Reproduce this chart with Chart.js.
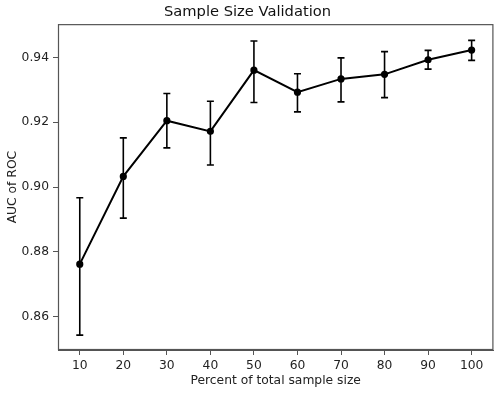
<!DOCTYPE html>
<html>
<head>
<meta charset="utf-8">
<script src="https://cdn.jsdelivr.net/npm/chart.js@4"></script>
<style>
  html, body { margin: 0; padding: 0; background: #fff; }
  #wrap { width: 498px; height: 395px; }
</style>
</head>
<body>
<div id="wrap"><canvas id="myChart" width="498" height="395"></canvas></div>
<script>
const percents = [10, 20, 30, 40, 50, 60, 70, 80, 90, 100];
const aucMean  = [0.8762, 0.9033, 0.9205, 0.9172, 0.9361, 0.9293, 0.9334, 0.9348, 0.9393, 0.9423];
const aucLow   = [0.8543, 0.8904, 0.9121, 0.9068, 0.9261, 0.9232, 0.9263, 0.9276, 0.9364, 0.9391];
const aucHigh  = [0.8967, 0.9152, 0.9289, 0.9265, 0.9451, 0.9350, 0.9399, 0.9418, 0.9422, 0.9453];
const yTicks = [0.86, 0.88, 0.90, 0.92, 0.94];

const fontFam = 'DejaVu Sans';

// error bars + frame, drawn through the scales
const errorBars = {
  id: 'errorBars',
  afterDatasetsDraw(chart) {
    const ctx = chart.ctx;
    const xs = chart.scales.x, ys = chart.scales.y;
    ctx.save();
    ctx.strokeStyle = '#000';
    ctx.lineWidth = 1.6;
    percents.forEach((p, i) => {
      const x = xs.getPixelForValue(p);
      const y1 = ys.getPixelForValue(aucLow[i]);
      const y2 = ys.getPixelForValue(aucHigh[i]);
      ctx.beginPath();
      ctx.moveTo(x, y1); ctx.lineTo(x, y2);
      ctx.moveTo(x - 3.5, y1); ctx.lineTo(x + 3.5, y1);
      ctx.moveTo(x - 3.5, y2); ctx.lineTo(x + 3.5, y2);
      ctx.stroke();
    });
    const a = chart.chartArea;
    ctx.strokeStyle = '#555';
    ctx.lineWidth = 1.2;
    ctx.strokeRect(a.left + 0.5, a.top + 0.5, a.right - a.left - 1, a.bottom - a.top - 1);
    ctx.restore();
  }
};

new Chart(document.getElementById('myChart'), {
  type: 'line',
  data: {
    datasets: [{
      data: percents.map((p, i) => ({ x: p, y: aucMean[i] })),
      borderColor: '#000',
      backgroundColor: '#000',
      borderWidth: 2,
      pointRadius: 2.6,
      pointHoverRadius: 2.6,
      tension: 0
    }]
  },
  options: {
    responsive: false,
    animation: false,
    layout: { padding: { left: 0, right: 3, top: 0, bottom: 0 } },
    plugins: {
      legend: { display: false },
      tooltip: { enabled: false },
      title: {
        display: true,
        text: 'Sample Size Validation',
        color: '#111',
        font: { family: fontFam, size: 14.7, weight: 'normal' },
        padding: { top: 3.5, bottom: 3 }
      }
    },
    scales: {
      x: {
        type: 'linear',
        min: 5,
        max: 105,
        afterBuildTicks(s) { s.ticks = percents.map(v => ({ value: v })); },
        afterFit(s) { s.height = 45; },
        grid: { display: true, drawOnChartArea: false, tickLength: 5, color: '#555' },
        border: { display: true, color: '#555' },
        ticks: { color: '#222', font: { family: fontFam, size: 12.3 }, padding: 3, maxRotation: 0 },
        title: {
          display: true,
          text: 'Percent of total sample size',
          color: '#222',
          font: { family: fontFam, size: 12.3 },
          padding: { top: 0, bottom: 7 }
        }
      },
      y: {
        min: 0.8497,
        max: 0.9503,
        afterBuildTicks(s) { s.ticks = yTicks.map(v => ({ value: v })); },
        afterFit(s) { s.width = 58; },
        grid: { display: true, drawOnChartArea: false, tickLength: 5, color: '#555' },
        border: { display: true, color: '#555' },
        ticks: {
          color: '#222',
          font: { family: fontFam, size: 12.3 },
          padding: 4,
          callback: v => v.toFixed(2)
        },
        title: {
          display: true,
          text: 'AUC of ROC',
          color: '#222',
          font: { family: fontFam, size: 12.3 },
          padding: { top: 5, bottom: 0 }
        }
      }
    }
  },
  plugins: [errorBars]
});
</script>
</body>
</html>
